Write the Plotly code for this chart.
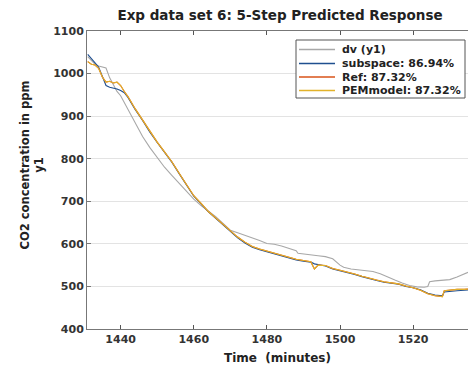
import plotly.graph_objects as go

# ---- data ----
t_dv = [1431, 1432, 1433, 1434, 1435, 1436, 1437, 1438, 1439, 1440, 1442, 1444, 1446, 1448,
        1450, 1452, 1454, 1456, 1458, 1460, 1462, 1464, 1466, 1468, 1470, 1472, 1474, 1476,
        1478, 1480, 1482, 1484, 1486, 1488, 1488.5, 1490, 1492, 1494, 1496, 1498, 1500, 1501,
        1503, 1505, 1507, 1509, 1511, 1513, 1515, 1517, 1519, 1521, 1523, 1524, 1524.5, 1526,
        1528, 1530, 1532, 1534, 1535]
dv = [1040, 1030, 1022, 1018, 1016, 1013, 990, 972, 958, 948, 915, 883, 852, 826,
      802, 780, 761, 742, 724, 705, 690, 678, 664, 648, 632, 626, 620, 615,
      608, 601, 599, 595, 590, 584, 578, 576, 574, 572, 570, 565, 550, 545,
      541, 539, 537, 535, 530, 522, 515, 508, 502, 499, 498, 500, 511, 513,
      514, 516, 522, 530, 533]

t_model = [1431, 1432, 1433, 1434, 1435, 1436, 1437, 1438, 1439, 1440, 1441, 1442, 1444, 1446,
           1448, 1450, 1452, 1454, 1456, 1458, 1460, 1462, 1464, 1466, 1468, 1470, 1472, 1474,
           1476, 1478, 1480, 1482, 1484, 1486, 1488, 1490, 1492, 1493, 1494, 1496, 1498, 1500,
           1502, 1504, 1506, 1508, 1510, 1512, 1514, 1516, 1518, 1520, 1522, 1524, 1526, 1528,
           1528.5, 1530, 1532, 1534, 1535]
subspace = [1045, 1036, 1025, 1015, 995, 972, 968, 966, 964, 960, 955, 944, 915, 890,
            862, 838, 815, 792, 765, 740, 712, 694, 675, 660, 645, 630, 614, 602,
            592, 586, 581, 576, 571, 566, 562, 559, 557, 553, 551, 548, 541, 537,
            533, 528, 523, 518, 514, 510, 508, 505, 500, 497, 492, 484, 480, 478,
            487, 489, 490, 491, 492]
ref = [1028, 1022, 1020, 1012, 992, 980, 982, 978, 980, 972, 958, 946, 917, 891,
       863, 839, 816, 793, 766, 741, 713, 695, 676, 661, 646, 631, 616, 604,
       594, 588, 583, 578, 573, 568, 564, 561, 558, 541, 550, 549, 542, 538,
       534, 529, 524, 519, 515, 511, 509, 506, 501, 497, 491, 483, 478, 476,
       490, 492, 493, 493, 494]
pem = [1028, 1022, 1020, 1012, 992, 980, 982, 978, 980, 972, 958, 946, 917, 891,
       863, 839, 816, 793, 766, 741, 713, 695, 676, 661, 646, 631, 616, 604,
       594, 588, 583, 578, 573, 568, 564, 561, 558, 541, 550, 549, 542, 538,
       534, 529, 524, 519, 515, 511, 509, 506, 501, 497, 491, 483, 478, 476,
       490, 492, 493, 493, 494]

names = ["dv (y1)", "subspace: 86.94%", "Ref: 87.32%", "PEMmodel: 87.32%"]
colors = ["#a8a8a8", "#1f4f8f", "#d95319", "#e2b22a"]

FONT = "DejaVu Sans"

# plot-area geometry (pixels) used to place the hand-drawn legend box
L, R, T, B = 87, 468, 31, 329
W, H = R - L, B - T


def px_x(p):
    return (p - L) / W


def px_y(p):
    return (B - p) / H


fig = go.Figure()
series = [(t_dv, dv), (t_model, subspace), (t_model, ref), (t_model, pem)]
for (tx, ty), nm, c in zip(series, names, colors):
    fig.add_trace(go.Scatter(x=tx, y=ty, mode="lines", name=nm, showlegend=False,
                             line=dict(color=c, width=1.1)))

fig.update_layout(
    width=468, height=370,
    margin=dict(l=L, r=468 - R, t=T, b=370 - B),
    paper_bgcolor="white", plot_bgcolor="white",
    font=dict(family=FONT, size=11, color="#333333"),
    title=dict(text="<b>Exp data set 6: 5-Step Predicted Response</b>",
               x=280 / 468, xanchor="center", y=1 - 15 / 370, yanchor="middle",
               font=dict(family=FONT, size=13.5, color="#222222")),
    showlegend=False,
    xaxis=dict(range=[1430.8, 1535], tickvals=[1440, 1460, 1480, 1500, 1520],
               ticks="inside", ticklen=4, tickcolor="#555555",
               showline=True, linecolor="#777777", linewidth=1, mirror="ticks",
               showgrid=False, zeroline=False,
               tickfont=dict(family=FONT, size=11, color="#333333", weight="bold"),
               title=dict(text="<b>Time  (minutes)</b>", standoff=8,
                          font=dict(family=FONT, size=12, color="#222222"))),
    yaxis=dict(range=[400, 1100], tickvals=[400, 500, 600, 700, 800, 900, 1000, 1100],
               ticks="inside", ticklen=4, tickcolor="#777777",
               showline=True, linecolor="#777777", linewidth=1, mirror=False,
               showgrid=True, gridcolor="#e3e3e3", gridwidth=1, zeroline=False,
               tickfont=dict(family=FONT, size=11, color="#333333", weight="bold")),
)

fig.add_annotation(text="<b>CO2 concentration in ppm</b><br><b>y1</b>",
                   xref="paper", yref="paper", x=px_x(31.5), y=px_y(165),
                   xanchor="center", yanchor="middle", textangle=-90, showarrow=False,
                   font=dict(family=FONT, size=11.5, color="#222222"))

# legend box drawn by hand so its rows are as compact as the reference
fig.add_shape(type="rect", xref="paper", yref="paper",
              x0=px_x(296), x1=px_x(465), y0=px_y(98), y1=px_y(40),
              line=dict(color="#555555", width=1), fillcolor="white", layer="above")
row_y = [49.5, 63.5, 77, 90.5]
for nm, c, ry in zip(names, colors, row_y):
    fig.add_shape(type="line", xref="paper", yref="paper",
                  x0=px_x(299), x1=px_x(335), y0=px_y(ry), y1=px_y(ry),
                  line=dict(color=c, width=1.5), layer="above")
    fig.add_annotation(text="<b>" + nm + "</b>", xref="paper", yref="paper",
                       x=px_x(340), y=px_y(ry), xanchor="left", yanchor="middle",
                       showarrow=False,
                       font=dict(family=FONT, size=11, color="#222222"))

fig.write_html("out.html")
